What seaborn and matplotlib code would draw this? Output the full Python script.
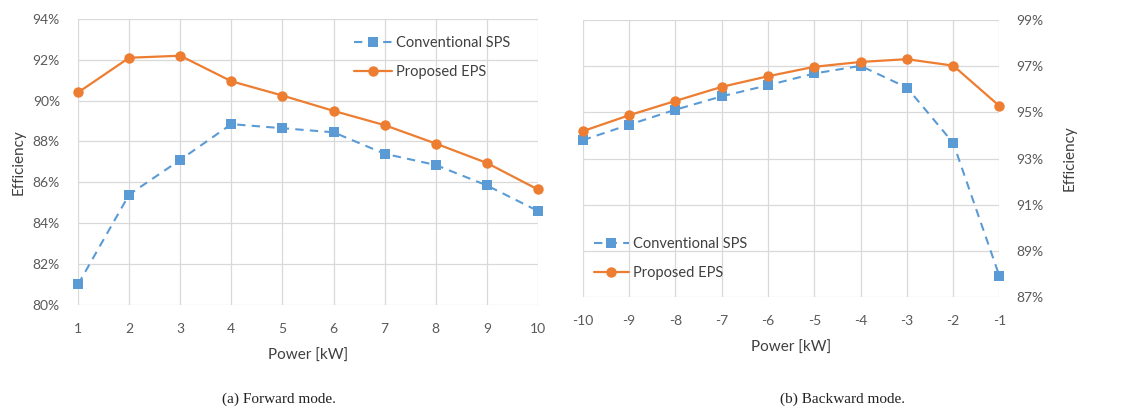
import matplotlib
matplotlib.use("Agg")
import matplotlib.pyplot as plt
import matplotlib.ticker as mticker
import seaborn as sns
import pandas as pd

# Forward mode (power in kW, efficiency in %)
fwd_power = [1, 2, 3, 4, 5, 6, 7, 8, 9, 10]
fwd_sps = [81.0, 85.4, 87.1, 88.85, 88.65, 88.45, 87.4, 86.85, 85.85, 84.6]
fwd_eps = [90.4, 92.1, 92.2, 90.95, 90.25, 89.5, 88.8, 87.9, 86.95, 85.65]

# Backward mode
bwd_power = [-10, -9, -8, -7, -6, -5, -4, -3, -2, -1]
bwd_sps = [93.8, 94.47, 95.12, 95.7, 96.18, 96.69, 97.02, 96.08, 93.68, 87.9]
bwd_eps = [94.19, 94.88, 95.5, 96.11, 96.57, 96.98, 97.19, 97.31, 97.03, 95.28]

series_names = ["Conventional SPS", "Proposed EPS"]
captions = ["(a) Forward mode.", "(b) Backward mode."]

sns.set_theme(style="white")
plt.rcParams["font.family"] = ["Lato", "DejaVu Sans"]
plt.rcParams["axes.unicode_minus"] = False

BLUE = "#5B9BD5"
ORANGE = "#ED7D31"
GRID = "#D9D9D9"
TICK = "#595959"

fig = plt.figure(figsize=(11.23, 4.12), dpi=100)
ax1 = fig.add_axes([0.0695, 0.260, 0.4095, 0.694])
ax2 = fig.add_axes([0.519, 0.279, 0.371, 0.672])


def draw(ax, power, sps, eps):
    df = pd.DataFrame({"power": power, "sps": sps, "eps": eps})
    sns.lineplot(data=df, x="power", y="sps", ax=ax, color=BLUE,
                 linestyle=(0, (4, 3)), linewidth=1.5, marker="s",
                 markersize=7, markeredgewidth=0, label=series_names[0],
                 clip_on=False)
    sns.lineplot(data=df, x="power", y="eps", ax=ax, color=ORANGE,
                 linestyle="-", linewidth=1.6, marker="o",
                 markersize=7.5, markeredgewidth=0, label=series_names[1],
                 clip_on=False)
    ax.set_xticks(power)
    ax.set_xlim(min(power), max(power))
    ax.grid(True, color=GRID, linewidth=0.9)
    ax.set_axisbelow(True)
    for s in ax.spines.values():
        s.set_visible(False)
    ax.tick_params(axis="both", length=0, labelsize=10, labelcolor=TICK)
    ax.tick_params(axis="x", pad=13)
    ax.yaxis.set_major_formatter(mticker.FuncFormatter(lambda v, p: f"{v:.0f}%"))
    ax.set_xlabel("Power [kW]", fontsize=11, color="#404040", labelpad=10)
    ax.set_ylabel("Efficiency", fontsize=11, color="#404040")


draw(ax1, fwd_power, fwd_sps, fwd_eps)
ax1.set_ylim(80, 94)
ax1.set_yticks(range(80, 95, 2))
ax1.tick_params(axis="y", pad=13)
ax1.set_ylabel("Efficiency", fontsize=11, color="#404040", labelpad=5)
ax1.legend(loc="upper right", bbox_to_anchor=(0.972, 0.99), frameon=False,
           fontsize=10.5, handlelength=2.6, handletextpad=0.3, labelspacing=1.0,
           labelcolor="#404040", borderaxespad=0.6)

draw(ax2, bwd_power, bwd_sps, bwd_eps)
ax2.set_ylim(87, 99)
ax2.set_yticks(range(87, 100, 2))
ax2.yaxis.tick_right()
ax2.yaxis.set_label_position("right")
ax2.tick_params(axis="y", pad=12)
ax2.set_ylabel("Efficiency", fontsize=11, color="#404040", rotation=90, labelpad=14)
ax2.legend(loc="lower left", bbox_to_anchor=(-0.005, 0.015), frameon=False,
           fontsize=10.5, handlelength=2.4, handletextpad=0.3, labelspacing=1.0,
           labelcolor="#404040")

fig.text(0.248, 0.015, captions[0], ha="center", va="bottom",
         family=["Liberation Serif"], fontsize=11, color="#222222")
fig.text(0.75, 0.015, captions[1], ha="center", va="bottom",
         family=["Liberation Serif"], fontsize=11, color="#222222")

fig.savefig("out.png", dpi=100, facecolor="white")
